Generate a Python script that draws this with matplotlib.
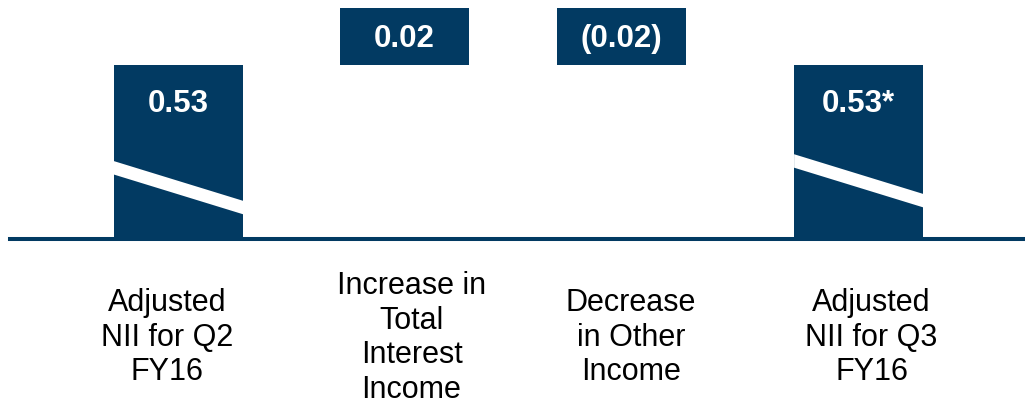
import numpy as np
import matplotlib.pyplot as plt
from matplotlib.patches import Polygon

plt.rcParams['font.family'] = ['Liberation Sans', 'DejaVu Sans']

# data
categories = ['Adjusted\nNII for Q2\nFY16',
              'Increase in\nTotal\nInterest\nIncome',
              'Decrease\nin Other\nIncome',
              'Adjusted\nNII for Q3\nFY16']
changes = [0.53, 0.02, -0.02, 0.53]
kinds = ['total', 'delta', 'delta', 'total']
value_labels = ['0.53', '0.02', '(0.02)', '0.53*']

navy = '#023a62'
cut = 0.4695          # axis break: values above the break are shifted down by this
ppu = 2850.0          # pixels per value unit on the shown part
step = 226.7          # pixels between category slots

# layout (slot units)
bar_x = [0, 0.997, 1.954, 3.0]
label_x = [-0.051, 1.028, 1.996, 3.057]
width = 0.569
breaks = [(0.44, 0.21), (0.48, 0.25)]
brk_t = 0.078

fig = plt.figure(figsize=(10.25, 4.11), dpi=100)
ax = fig.add_axes([0, 0, 1, 1])
ax.axis('off')
ax.set_xlim(-178.5 / step, (1025 - 178.5) / step)
ax.set_ylim(-174 / ppu, 237 / ppu)

ax.axhline(-2 / ppu, xmin=9.5 / 1025, xmax=1, lw=2.9, color=navy, zorder=1)

running = 0
k = 0
for i in range(len(changes)):
    if kinds[i] == 'total':
        lo, hi = 0, changes[i] - cut
        running = changes[i]
    else:
        a, b = running, running + changes[i]
        lo, hi = min(a, b) - cut, max(a, b) - cut
        running = b
    ax.bar(bar_x[i], hi - lo, bottom=lo, width=width, color=navy, zorder=2)

    if kinds[i] == 'total':
        h = hi - lo
        fl, fr = breaks[k]
        k += 1
        xl, xr = bar_x[i] - width / 2, bar_x[i] + width / 2
        stripe = Polygon([(xl, fl * h), (xr, fr * h),
                          (xr, (fr - brk_t) * h), (xl, (fl - brk_t) * h)],
                         closed=True, facecolor='white', edgecolor='none', zorder=3)
        ax.add_patch(stripe)
        off = 47.7
    else:
        off = 39

    ax.annotate(value_labels[i], xy=(bar_x[i], hi), xytext=(0, -off),
                textcoords='offset pixels', ha='center', va='baseline',
                fontsize=22.5, fontweight='bold', color='white', zorder=4)

    ax.text(label_x[i], 0.178, categories[i], transform=ax.get_xaxis_transform(),
            ha='center', va='center', multialignment='center',
            fontsize=22, color='black', linespacing=1.2)

fig.savefig('out.png', dpi=100)
